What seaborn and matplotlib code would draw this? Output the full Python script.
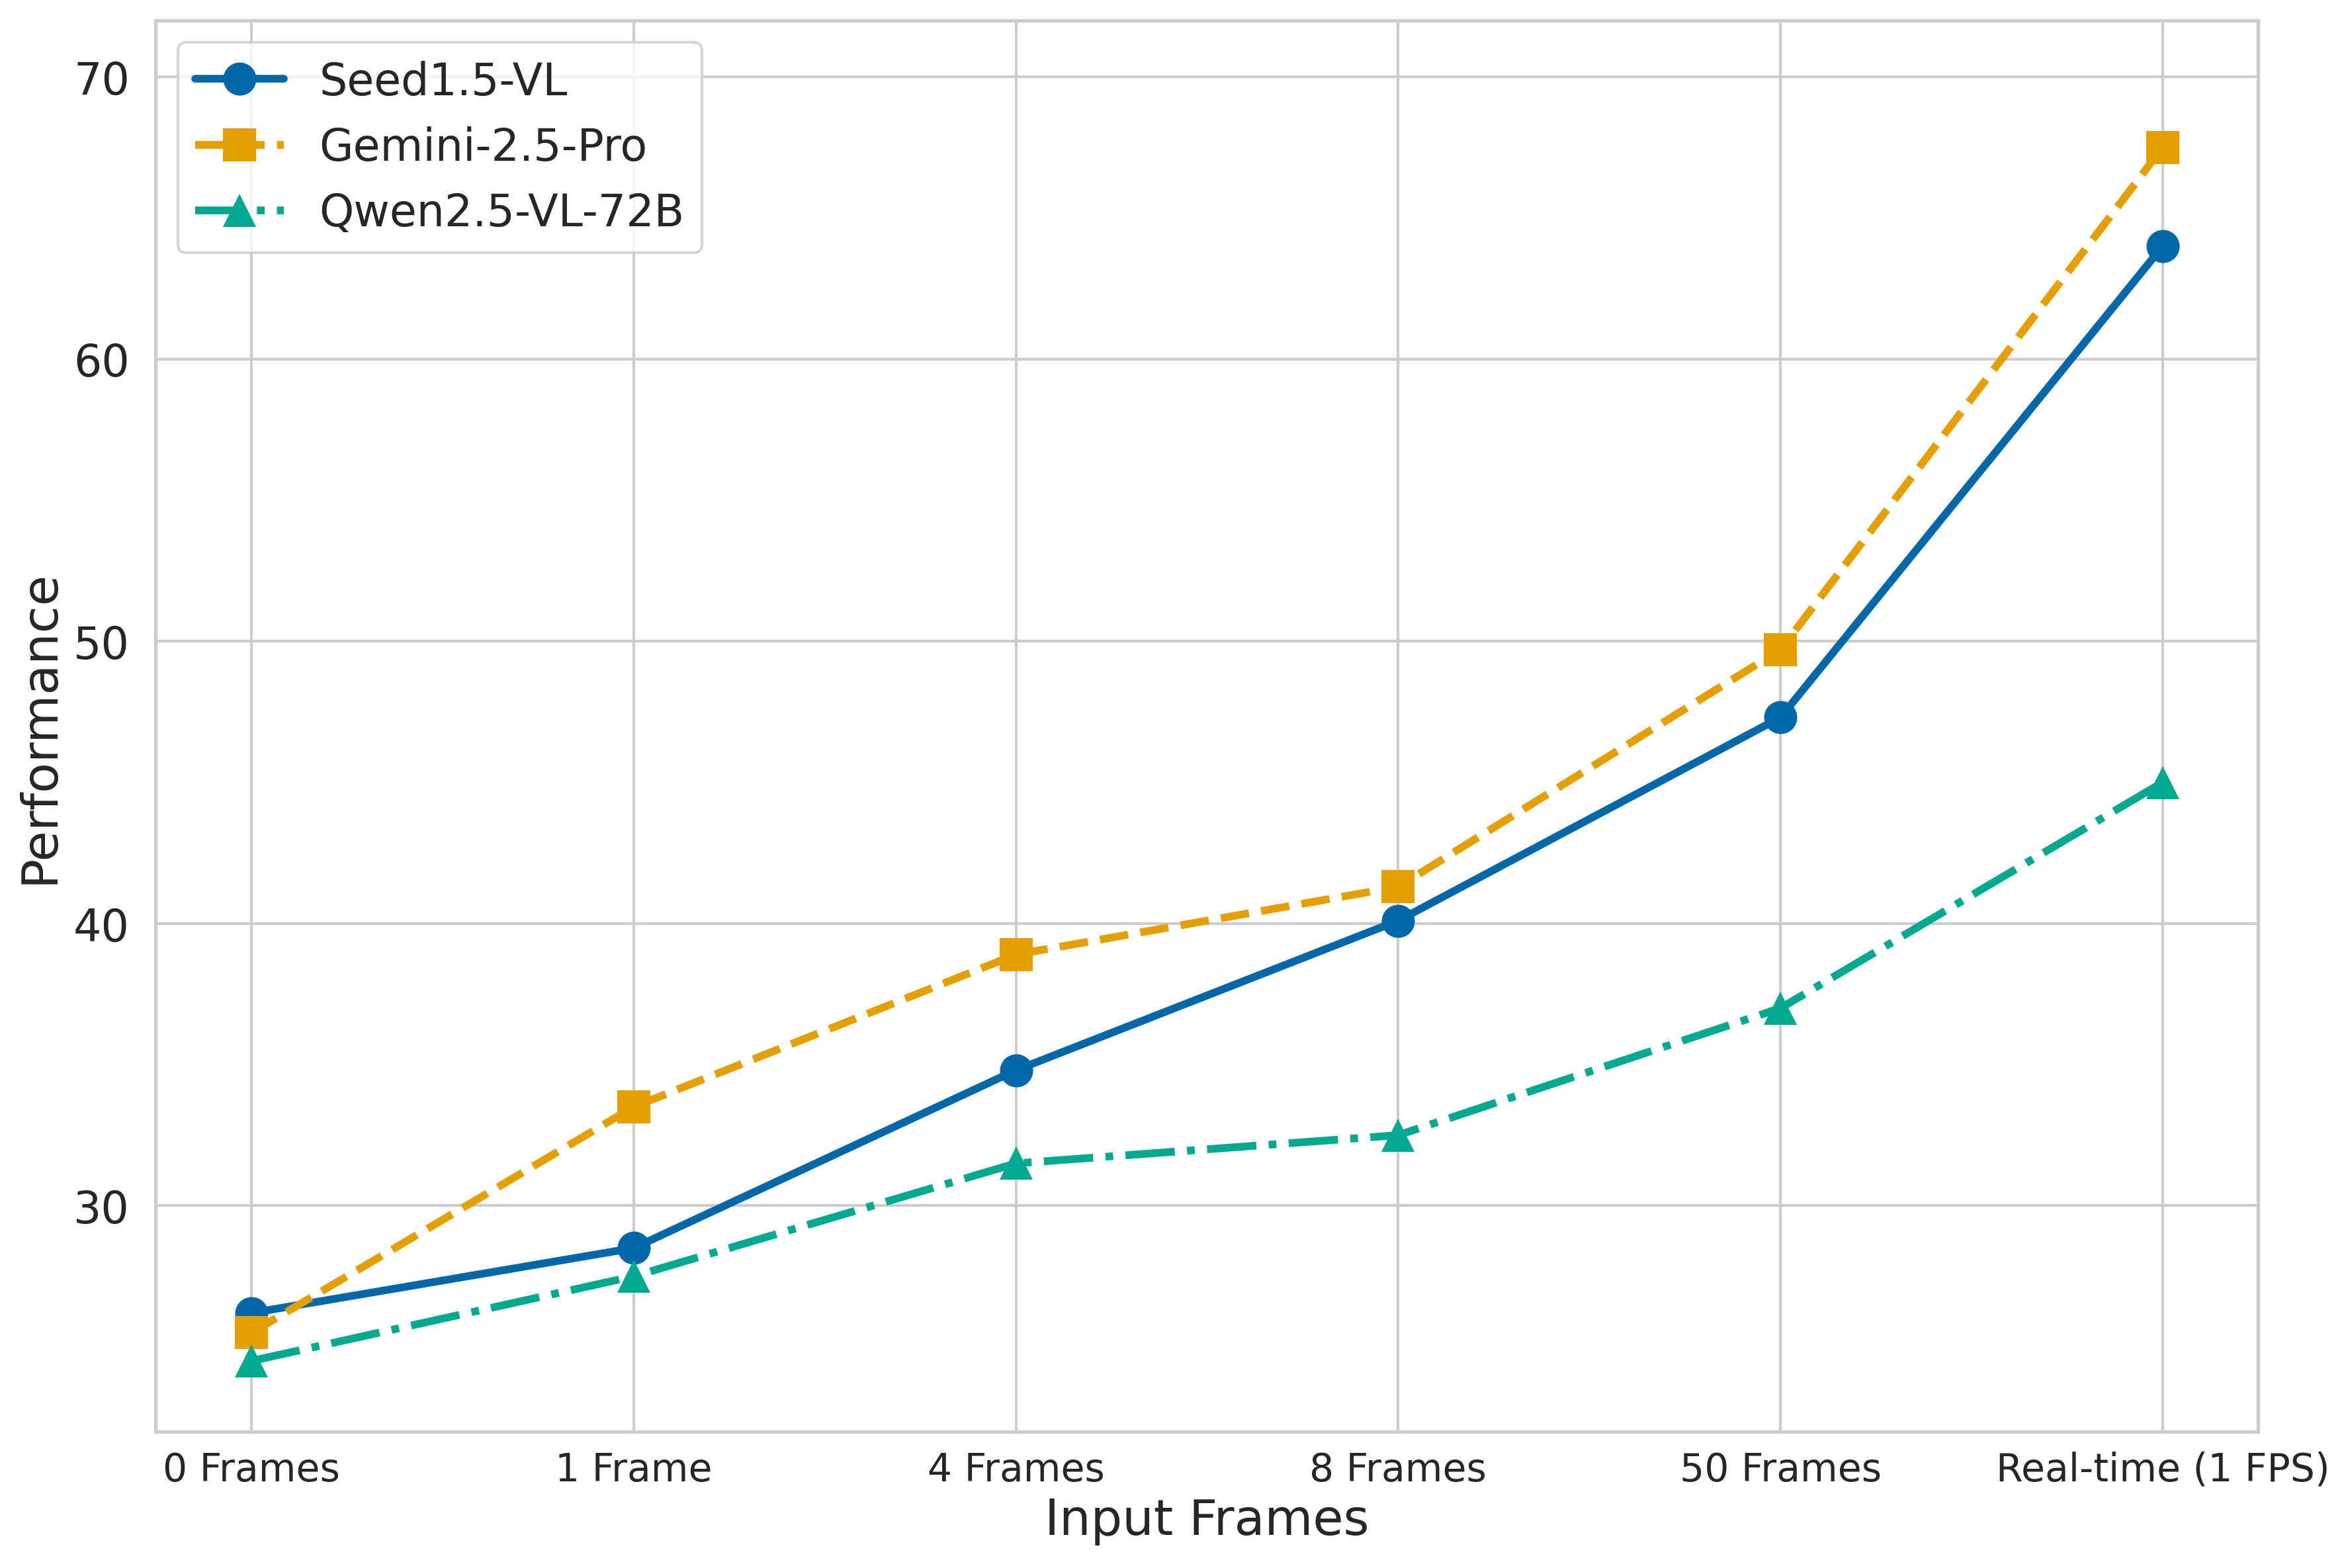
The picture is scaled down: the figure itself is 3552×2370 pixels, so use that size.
import matplotlib
matplotlib.use("Agg")
import matplotlib.pyplot as plt
import seaborn as sns
import pandas as pd

categories = ["0 Frames", "1 Frame", "4 Frames", "8 Frames", "50 Frames", "Real-time (1 FPS)"]
seed_vals = [26.2, 28.5, 34.8, 40.1, 47.3, 64.0]
gemini_vals = [25.5, 33.5, 38.9, 41.3, 49.7, 67.5]
qwen_vals = [24.5, 27.5, 31.5, 32.5, 37.0, 45.0]
series_names = ["Seed1.5-VL", "Gemini-2.5-Pro", "Qwen2.5-VL-72B"]
y_ticks = [30, 40, 50, 60, 70]

sns.set_theme(style="whitegrid")
plt.rcParams["font.family"] = ["DejaVu Sans"]

fig = plt.figure(figsize=(11.84, 7.903), dpi=300)
ax = fig.add_axes([0.0663, 0.087, 0.8947, 0.8997])

styles = [
    dict(color="#0068A8", linestyle="-", marker="o"),
    dict(color="#E69F00", linestyle="--", marker="s"),
    dict(color="#00A98F", linestyle="-.", marker="^"),
]
x_pos = list(range(len(categories)))
for name, vals, st in zip(series_names, [seed_vals, gemini_vals, qwen_vals], styles):
    df = pd.DataFrame({"x": x_pos, "y": vals})
    sns.lineplot(data=df, x="x", y="y", ax=ax, label=name, linewidth=2.8,
                 markersize=12, markeredgewidth=0, **st)

ax.set_xticks(x_pos)
ax.set_xticklabels(categories, fontsize=14)
ax.set_yticks(y_ticks)
ax.tick_params(axis="y", labelsize=16)
ax.tick_params(axis="x", pad=1)
ax.set_xlim(-0.25, 5.25)
ax.set_ylim(22, 72)
ax.set_xlabel("Input Frames", fontsize=18, labelpad=3)
ax.set_ylabel("Performance", fontsize=18, labelpad=3.5)
ax.legend(loc="upper left", fontsize=16)

fig.savefig("out.png", dpi=300)
